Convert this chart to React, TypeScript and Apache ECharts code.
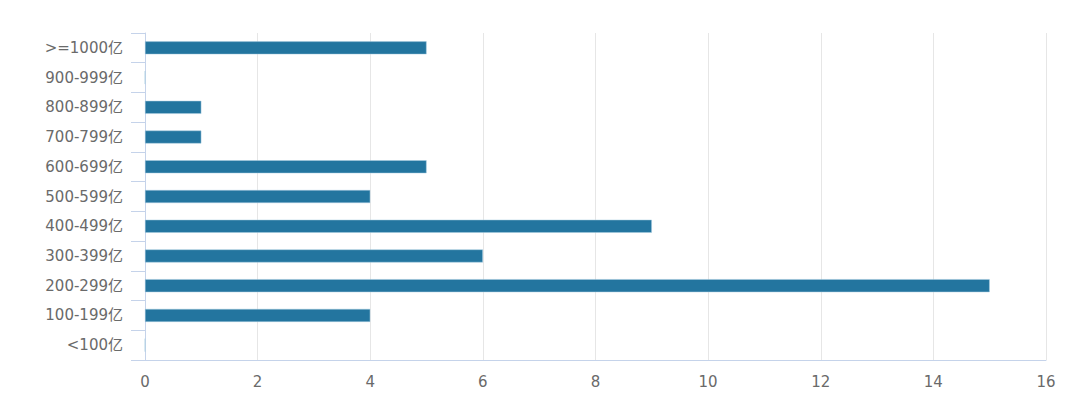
import React, { useEffect, useRef } from "react";
import * as echarts from "echarts";

const categories = ["<100亿", "100-199亿", "200-299亿", "300-399亿", "400-499亿", "500-599亿", "600-699亿", "700-799亿", "800-899亿", "900-999亿", ">=1000亿"];
const counts = [0, 4, 15, 6, 9, 4, 5, 1, 1, 0, 5];

export default function App() {
  const ref = useRef<HTMLDivElement>(null);
  useEffect(() => {
    const chart = echarts.init(ref.current!, null, { renderer: "svg" });
    chart.setOption({
      animation: false,
      textStyle: { fontFamily: "'DejaVu Sans', 'Noto Sans CJK SC', sans-serif" },
      grid: { left: 137, right: 22, top: 25, bottom: 39 },
      xAxis: {
        type: "value",
        min: 0,
        max: 16,
        interval: 2,
        axisLine: { show: true, lineStyle: { color: "#c5d3ea" } },
        axisTick: { show: false },
        splitLine: { lineStyle: { color: "#e6e6e6" } },
        axisLabel: { color: "#6a6a6a", fontSize: 15, margin: 14 },
      },
      yAxis: {
        type: "category",
        data: categories,
        axisLine: { lineStyle: { color: "#c5d3ea" } },
        axisTick: { show: true, length: 14, lineStyle: { color: "#c5d3ea" } },
        axisLabel: { color: "#6a6a6a", fontSize: 15, margin: 22 },
      },
      series: [
        {
          type: "bar",
          data: counts,
          barWidth: 13,
          itemStyle: { color: "#23759f", borderColor: "#a9cce0", borderWidth: 0.5 },
        },
      ],
    });
    return () => chart.dispose();
  }, []);
  return <div ref={ref} style={{ width: 1060, height: 391 }} />;
}
